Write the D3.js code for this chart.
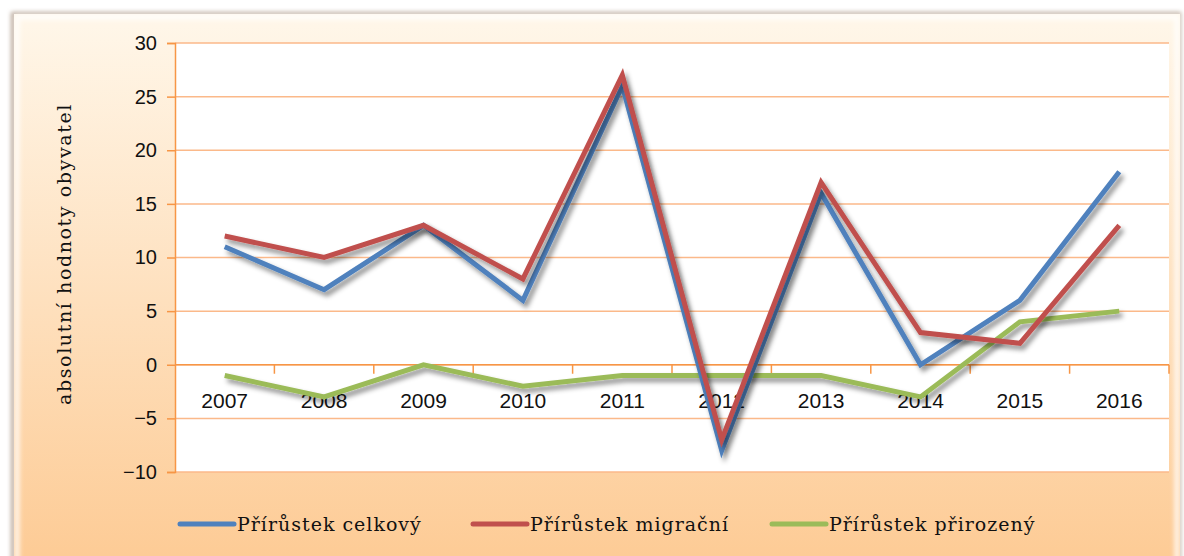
<!DOCTYPE html>
<html>
<head>
<meta charset="utf-8">
<script src="https://cdn.jsdelivr.net/npm/d3@7.9.0/dist/d3.min.js"></script>
<style>
  body { margin: 0; background: #fff; }
  svg { display: block; }
</style>
</head>
<body>
<div id="chart"></div>
<script>
// data
const years = ['2007', '2008', '2009', '2010', '2011', '2012', '2013', '2014', '2015', '2016'];
const celkovy = [11, 7, 13, 6, 26, -8, 16, 0, 6, 18];
const migracni = [12, 10, 13, 8, 27, -7, 17, 3, 2, 13];
const prirozeny = [-1, -3, 0, -2, -1, -1, -1, -3, 4, 5];
const seriesNames = ['Přírůstek celkový', 'Přírůstek migrační', 'Přírůstek přirozený'];
const seriesColors = ['#4f81bd', '#c0504d', '#9bbb59'];
const yTicks = [-10, -5, 0, 5, 10, 15, 20, 25, 30];

const width = 1184;
const height = 556;

const svg = d3.select('#chart')
  .append('svg')
  .attr('width', width)
  .attr('height', height);

const defs = svg.append('defs');

// chart area background (cream to peach)
const bg = defs.append('linearGradient')
  .attr('id', 'bg')
  .attr('x1', 0).attr('y1', 0).attr('x2', 0).attr('y2', 1);
bg.append('stop').attr('offset', '0%').attr('stop-color', '#fff7ea');
bg.append('stop').attr('offset', '100%').attr('stop-color', '#fdca93');

const shadow = defs.append('filter')
  .attr('id', 'shadow')
  .attr('x', '-10%').attr('y', '-10%')
  .attr('width', '130%').attr('height', '130%');
shadow.append('feDropShadow')
  .attr('dx', 3).attr('dy', 4)
  .attr('stdDeviation', 2.5)
  .attr('flood-color', '#000')
  .attr('flood-opacity', 0.45);

const frameBlur = defs.append('filter').attr('id', 'frameBlur');
frameBlur.append('feGaussianBlur').attr('stdDeviation', 2);

// outer frame with bevel
svg.append('rect')
  .attr('x', 11).attr('y', 12)
  .attr('width', 1170).attr('height', 560)
  .attr('fill', '#b9a89a')
  .attr('filter', 'url(#frameBlur)');
svg.append('rect')
  .attr('x', 14).attr('y', 14)
  .attr('width', 1166).attr('height', 560)
  .attr('fill', 'url(#bg)');
svg.append('rect')
  .attr('x', 17).attr('y', 17)
  .attr('width', 1160).attr('height', 560)
  .attr('fill', 'none')
  .attr('stroke', '#ffffff')
  .attr('stroke-opacity', 0.7)
  .attr('stroke-width', 6)
  .attr('filter', 'url(#frameBlur)');

const margin = { left: 175, right: 1169, top: 43, bottom: 472 };

const x = d3.scaleBand()
  .domain(years)
  .range([margin.left, margin.right]);

const y = d3.scaleLinear()
  .domain([-10, 30])
  .range([margin.bottom, margin.top]);

// plot area
svg.append('rect')
  .attr('x', margin.left).attr('y', margin.top)
  .attr('width', margin.right - margin.left)
  .attr('height', margin.bottom - margin.top)
  .attr('fill', '#ffffff');

// gridlines
svg.append('g')
  .selectAll('line')
  .data(yTicks)
  .join('line')
  .attr('x1', margin.left).attr('x2', margin.right)
  .attr('y1', d => y(d)).attr('y2', d => y(d))
  .attr('stroke', '#fbb98a')
  .attr('stroke-width', 1.5);

// y axis
const yAxis = svg.append('g')
  .attr('transform', `translate(${margin.left},0)`)
  .call(d3.axisLeft(y).tickValues(yTicks).tickSize(8).tickPadding(10).tickFormat(d3.format('d')));
yAxis.select('.domain').attr('stroke', '#f79646').attr('stroke-width', 1.5);
yAxis.selectAll('.tick line').attr('stroke', '#f79646').attr('stroke-width', 1.5);
yAxis.selectAll('.tick text')
  .attr('fill', '#111')
  .style('font-family', '"Liberation Sans", Arial, sans-serif')
  .style('font-size', '20px');

// x axis at zero
const xAxisG = svg.append('g')
  .attr('transform', `translate(0,${y(0)})`);
xAxisG.append('line')
  .attr('x1', margin.left).attr('x2', margin.right)
  .attr('stroke', '#f79646').attr('stroke-width', 1.5);
xAxisG.selectAll('line.tk')
  .data(years)
  .join('line')
  .attr('class', 'tk')
  .attr('x1', d => x(d) + x.bandwidth())
  .attr('x2', d => x(d) + x.bandwidth())
  .attr('y1', 0).attr('y2', 9)
  .attr('stroke', '#f79646').attr('stroke-width', 1.5);
xAxisG.selectAll('text')
  .data(years)
  .join('text')
  .attr('x', d => x(d) + x.bandwidth() / 2)
  .attr('y', 43)
  .attr('text-anchor', 'middle')
  .attr('fill', '#111')
  .style('font-family', '"Liberation Sans", Arial, sans-serif')
  .style('font-size', '21px')
  .text(d => d);

// y axis title
svg.append('text')
  .attr('transform', 'translate(71,254) rotate(-90)')
  .attr('text-anchor', 'middle')
  .attr('fill', '#111')
  .style('font-family', '"DejaVu Serif", serif')
  .style('font-size', '19px')
  .style('letter-spacing', '1.6px')
  .text('absolutní hodnoty obyvatel');

// lines
const allSeries = [celkovy, migracni, prirozeny];
const line = d3.line()
  .x((d, i) => x(years[i]) + x.bandwidth() / 2)
  .y(d => y(d));

svg.append('g')
  .selectAll('path')
  .data([2, 0, 1])
  .join('path')
  .attr('d', k => line(allSeries[k]))
  .attr('fill', 'none')
  .attr('stroke', k => seriesColors[k])
  .attr('stroke-width', 5)
  .attr('stroke-linejoin', 'miter')
  .attr('filter', 'url(#shadow)');

// legend
const legendX = [180, 473, 772];
const items = svg.append('g')
  .selectAll('g')
  .data(seriesNames)
  .join('g')
  .attr('transform', (d, i) => `translate(${legendX[i]},524)`);
items.append('line')
  .attr('x1', 0).attr('x2', 54)
  .attr('stroke', (d, i) => seriesColors[i])
  .attr('stroke-width', 5)
  .attr('stroke-linecap', 'round');
items.append('text')
  .attr('x', 57)
  .attr('y', 7)
  .attr('fill', '#111')
  .style('font-family', '"DejaVu Serif", serif')
  .style('font-size', '19px')
  .style('letter-spacing', '1px')
  .text(d => d);
</script>
</body>
</html>
